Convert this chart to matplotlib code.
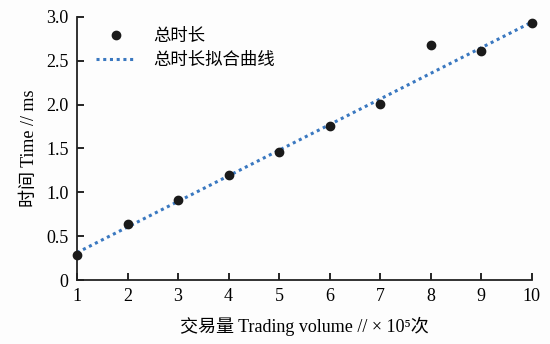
import matplotlib.pyplot as plt
import numpy as np

plt.rcParams['font.family'] = ['Liberation Serif', 'Noto Sans CJK SC', 'DejaVu Serif']
plt.rcParams['axes.unicode_minus'] = False

volume = [1, 2, 3, 4, 5, 6, 7, 8, 9, 10]
total_time = [0.29, 0.64, 0.91, 1.20, 1.46, 1.76, 2.01, 2.68, 2.61, 2.93]
fit_slope = 0.292
fit_intercept = 0.02
yticks = [0, 0.5, 1.0, 1.5, 2.0, 2.5, 3.0]
ytick_labels = ["0", "0.5", "1.0", "1.5", "2.0", "2.5", "3.0"]

fig = plt.figure(figsize=(5.5, 3.44), dpi=100, facecolor="#fdfdfd")
ax = fig.add_axes([0.14, 0.186, 0.827, 0.765], facecolor="#fdfdfd")

x = np.array(volume)
fit = fit_slope * x + fit_intercept
ax.plot(volume, total_time, "o", color="#1a1a1a", markersize=6, label="总时长",
        zorder=3, clip_on=False)
ax.plot(volume, fit, linestyle=(0, (1, 1.2)), color="#3a78c0", linewidth=2.2,
        label="总时长拟合曲线", clip_on=False)

ax.set_xlim(1, 10)
ax.set_ylim(0, 3.0)
ax.set_xticks(volume)
ax.set_yticks(yticks, ytick_labels)
ax.tick_params(direction="in", length=5, width=1.2, labelsize=13, pad=6)
for s in ["top", "right"]:
    ax.spines[s].set_visible(False)
for s in ["left", "bottom"]:
    ax.spines[s].set_linewidth(1.3)
    ax.spines[s].set_color("#222222")

ax.set_xlabel("交易量 Trading volume // × 10⁵次", fontsize=13, labelpad=8)
ax.set_ylabel("时间 Time // ms", fontsize=13, labelpad=6)

ax.legend(loc="upper left", bbox_to_anchor=(0.015, 1.0), frameon=False, fontsize=12.5,
          handlelength=2.3, handletextpad=1.0, borderaxespad=0.3, labelspacing=0.45)

fig.savefig("out.png", dpi=100, facecolor=fig.get_facecolor())
